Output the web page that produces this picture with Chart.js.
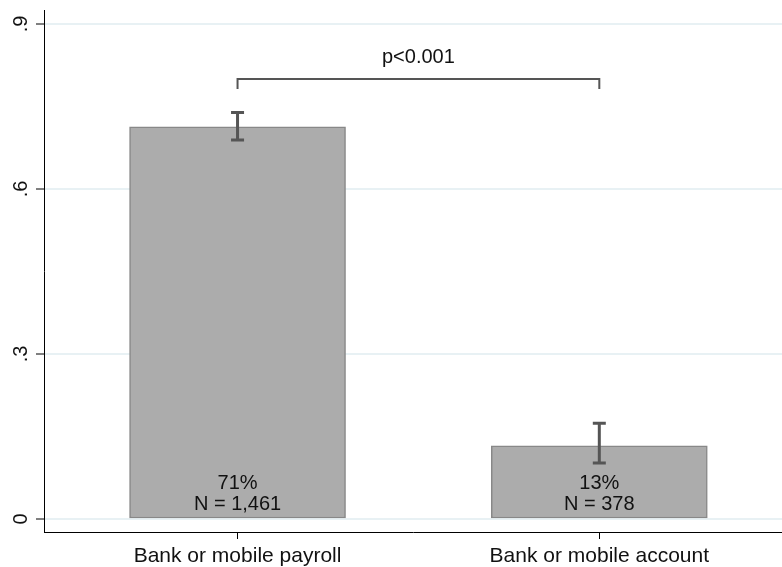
<!DOCTYPE html>
<html>
<head>
<meta charset="utf-8">
<title>Share paid through bank or mobile</title>
<script src="https://cdn.jsdelivr.net/npm/chart.js@4.4.1/dist/chart.umd.min.js"></script>
<style>
  html, body { margin: 0; padding: 0; background: #ffffff; }
  #wrap { width: 782px; height: 567px; }
</style>
</head>
<body>
<div id="wrap"><canvas id="chart" width="782" height="567"></canvas></div>
<script>
// Groups and their estimated shares
const categories = ['Bank or mobile payroll', 'Bank or mobile account'];
const shares = [0.713, 0.133];
const ciLow = [0.689, 0.102];
const ciHigh = [0.739, 0.174];
const sampleSizes = [1461, 378];

// Y axis ticks
const yTicks = [0, 0.3, 0.6, 0.9];
const yTickLabels = ['0', '.3', '.6', '.9'];

// Significance bracket between the two groups
const pValueText = 'p<0.001';
const bracketTop = 0.800;
const bracketFoot = 0.782;
const pLabelLevel = 0.840;

const FONT = '"Liberation Sans", Arial, Helvetica, sans-serif';
const INK = '#111111';
const MARK = '#555555';

// Error bars, in-bar labels and the p-value bracket
const annotations = {
  id: 'annotations',
  afterDatasetsDraw(chart) {
    const ctx = chart.ctx;
    const y = chart.scales.y;
    const bars = chart.getDatasetMeta(0).data;
    ctx.save();

    // confidence intervals
    ctx.strokeStyle = MARK;
    ctx.lineWidth = 3;
    ctx.lineCap = 'butt';
    bars.forEach((bar, i) => {
      const yl = y.getPixelForValue(ciLow[i]);
      const yh = y.getPixelForValue(ciHigh[i]);
      ctx.beginPath();
      ctx.moveTo(bar.x, yl); ctx.lineTo(bar.x, yh);
      ctx.moveTo(bar.x - 6.5, yl); ctx.lineTo(bar.x + 6.5, yl);
      ctx.moveTo(bar.x - 6.5, yh); ctx.lineTo(bar.x + 6.5, yh);
      ctx.stroke();
    });

    // share and sample size inside each bar
    ctx.fillStyle = INK;
    ctx.font = '20px ' + FONT;
    ctx.textAlign = 'center';
    ctx.textBaseline = 'middle';
    const base = y.getPixelForValue(0);
    bars.forEach((bar, i) => {
      ctx.fillText(Math.round(shares[i] * 100) + '%', bar.x, base - 36);
      ctx.fillText('N = ' + sampleSizes[i].toLocaleString('en-US'), bar.x, base - 15);
    });

    // bracket
    const x0 = bars[0].x, x1 = bars[bars.length - 1].x;
    const yt = y.getPixelForValue(bracketTop);
    const yf = y.getPixelForValue(bracketFoot);
    ctx.strokeStyle = MARK;
    ctx.lineWidth = 2;
    ctx.lineJoin = 'miter';
    ctx.beginPath();
    ctx.moveTo(x0, yf); ctx.lineTo(x0, yt); ctx.lineTo(x1, yt); ctx.lineTo(x1, yf);
    ctx.stroke();
    ctx.fillText(pValueText, (x0 + x1) / 2, y.getPixelForValue(pLabelLevel));

    ctx.restore();
  }
};

new Chart(document.getElementById('chart'), {
  type: 'bar',
  data: {
    datasets: [{
      data: categories.map((c, i) => ({ x: i, y: shares[i] })),
      backgroundColor: '#acacac',
      borderColor: '#888888',
      borderWidth: 1.5,
      borderSkipped: false,
      barThickness: 216
    }]
  },
  options: {
    responsive: false,
    animation: false,
    layout: { padding: { top: 10, right: 0, bottom: 0, left: 0 } },
    plugins: { legend: { display: false }, tooltip: { enabled: false } },
    scales: {
      x: {
        type: 'linear',
        offset: false,
        min: -0.535,
        max: 1.505,
        afterBuildTicks(scale) { scale.ticks = categories.map((c, i) => ({ value: i })); },
        afterFit(scale) {
          scale.height = 35;
          scale.paddingLeft = 0; scale.paddingRight = 0;
        },
        grid: { offset: false, drawOnChartArea: false, tickColor: '#000000', tickLength: 7, tickWidth: 1 },
        border: { display: true, color: '#000000', width: 1 },
        ticks: {
          color: INK,
          font: { family: FONT, size: 21 },
          padding: 5,
          maxRotation: 0,
          autoSkip: false,
          callback: (v) => categories[v]
        }
      },
      y: {
        min: -0.0236,
        max: 0.9255,
        afterBuildTicks(scale) { scale.ticks = yTicks.map(v => ({ value: v })); },
        afterFit(scale) {
          scale.width = 44;
          scale.paddingTop = 0; scale.paddingBottom = 0;
        },
        grid: { color: '#e8f1f4', lineWidth: 2, tickColor: '#000000', tickLength: 8, tickWidth: 1 },
        border: { display: true, color: '#000000', width: 1 },
        ticks: {
          color: INK,
          font: { family: FONT, size: 20 },
          minRotation: 90,
          maxRotation: 90,
          crossAlign: 'center',
          padding: 6,
          callback: (v) => yTickLabels[yTicks.indexOf(v)]
        }
      }
    }
  },
  plugins: [annotations]
});
</script>
</body>
</html>
